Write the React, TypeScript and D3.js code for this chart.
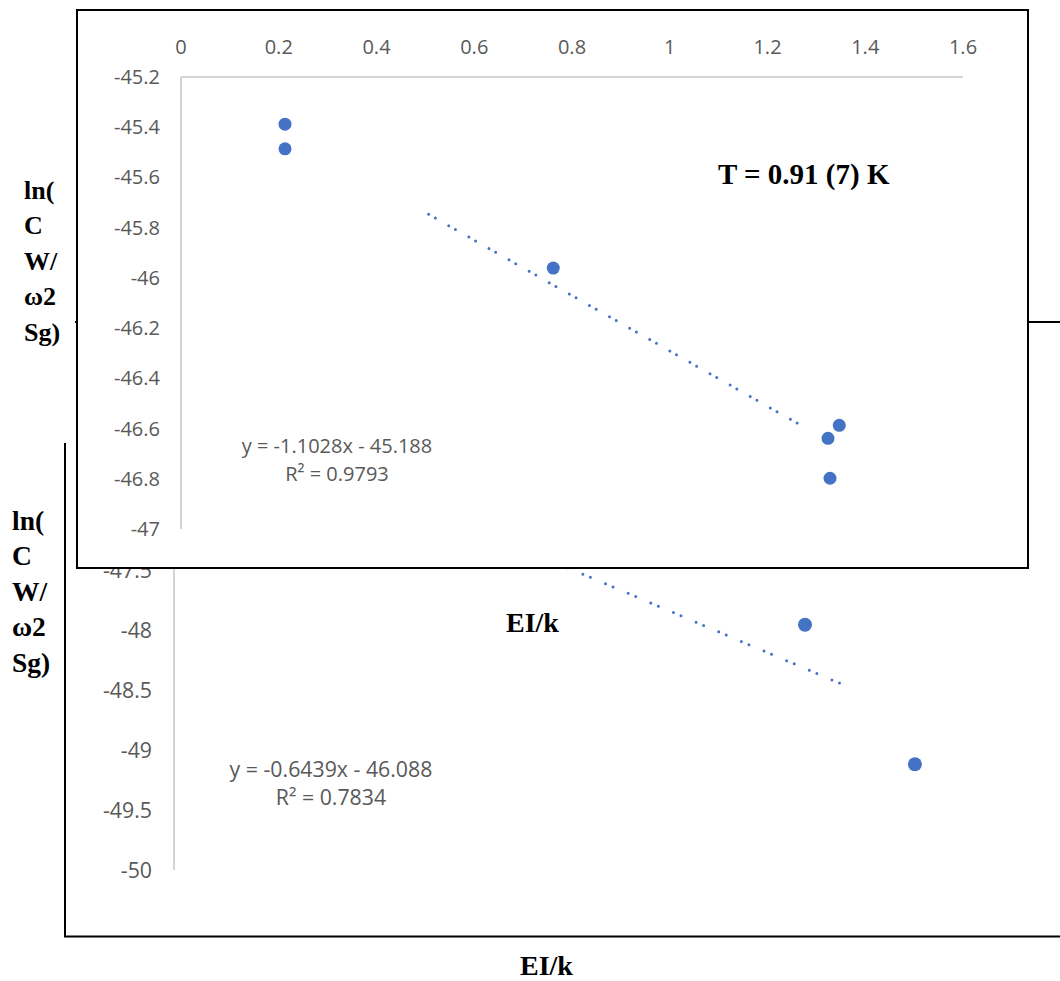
import React from "react";
import * as d3 from "d3";

// ---------- data ----------
// front (inset) chart
const frontX = [0.2128, 0.2128, 0.7617, 1.3469, 1.3238, 1.3279];
const frontY = [-45.388, -45.486, -45.961, -46.587, -46.639, -46.798];
const frontXTicks = [0, 0.2, 0.4, 0.6, 0.8, 1, 1.2, 1.4, 1.6];
const frontXTickLabels = ["0", "0.2", "0.4", "0.6", "0.8", "1", "1.2", "1.4", "1.6"];
const frontYTicks = [-45.2, -45.4, -45.6, -45.8, -46, -46.2, -46.4, -46.6, -46.8, -47];
const frontYTickLabels = ["-45.2", "-45.4", "-45.6", "-45.8", "-46", "-46.2", "-46.4", "-46.6", "-46.8", "-47"];
const frontSlope = -1.1028;
const frontIntercept = -45.188;
const frontTrendRange = [0.5067, 1.275];
const frontEquation = "y = -1.1028x - 45.188";
const frontR2 = "R² = 0.9793";
const frontNote = "T = 0.91 (7) K";

// back chart (only the part not covered by the inset)
const backX = [3.467, 4.071];
const backY = [-47.956, -49.119];
const backYTicks = [-47.5, -48, -48.5, -49, -49.5, -50];
const backYTickLabels = ["-47.5", "-48", "-48.5", "-49", "-49.5", "-50"];
const backSlope = -0.6439;
const backIntercept = -46.088;
const backTrendRange = [1.5, 3.729];
const backEquation = "y = -0.6439x - 46.088";
const backR2 = "R² = 0.7834";

const yTitleLines = ["ln(", "C", "W/", "ω2", "Sg)"];
const xTitle = "EI/k";

const BLUE = "#4472C4";
const GRAY_TEXT = "#595959";
const AXIS = "#c6c6c6";
const SANS = "'Open Sans', 'Noto Sans', sans-serif";
const SERIF = "'Liberation Serif', 'DejaVu Serif', serif";

export default function App() {
  // front scales
  const fx = d3.scaleLinear().domain([0, 1.6]).range([181, 963]);
  const fy = d3.scaleLinear().domain([-47, -45.2]).range([529, 77]);
  // back scales
  const bx = d3.scaleLinear().domain([0, 5]).range([174, 1084]);
  const by = d3.scaleLinear().domain([-50, -45.5]).range([870, 330]);

  const frontLine = d3
    .line<number>()
    .x((d) => fx(d))
    .y((d) => fy(frontSlope * d + frontIntercept));
  const backLine = d3
    .line<number>()
    .x((d) => bx(d))
    .y((d) => by(backSlope * d + backIntercept));

  return (
    <svg
      width={1060}
      height={981}
      style={{ position: "absolute", left: 0, top: 0, background: "#fff" }}
    >
      <rect x={0} y={0} width={1060} height={981} fill="#fff" />

      {/* ---------------- back chart ---------------- */}
      <g>
        <line x1={75} x2={1060} y1={322} y2={322} stroke="#000" strokeWidth={2} />
        <line x1={65} x2={65} y1={443} y2={937} stroke="#000" strokeWidth={2} />
        <line x1={64} x2={1060} y1={936.5} y2={936.5} stroke="#000" strokeWidth={2} />

        <line x1={bx(0)} x2={bx(0)} y1={by(-45.5)} y2={by(-50)} stroke={AXIS} strokeWidth={1.5} />
        {backYTicks.map((t, i) => (
          <text
            key={i}
            x={152}
            y={by(t) + 7.5}
            textAnchor="end"
            fontFamily={SANS}
            fontSize={21.3}
            fill={GRAY_TEXT}
          >
            {backYTickLabels[i]}
          </text>
        ))}

        <path
          d={backLine(backTrendRange) || ""}
          fill="none"
          stroke={BLUE}
          strokeWidth={3}
          strokeLinecap="round"
          strokeDasharray="0 8.2 0 16.4"
        />
        {backX.map((x, i) => (
          <circle key={i} cx={bx(x)} cy={by(backY[i])} r={7} fill={BLUE} />
        ))}

        <text x={331} y={777} textAnchor="middle" fontFamily={SANS} fontSize={21.3} fill={GRAY_TEXT}>
          {backEquation}
        </text>
        <text x={331} y={805} textAnchor="middle" fontFamily={SANS} fontSize={21.3} fill={GRAY_TEXT}>
          {backR2}
        </text>

        {yTitleLines.map((s, i) => (
          <text
            key={i}
            x={12}
            y={529.5 + i * 35.5}
            fontFamily={SERIF}
            fontWeight="bold"
            fontSize={27.5}
            fill="#000"
          >
            {s}
          </text>
        ))}
        <text x={520} y={975} fontFamily={SERIF} fontWeight="bold" fontSize={28} fill="#000">
          {xTitle}
        </text>
      </g>

      {/* ---------------- front chart ---------------- */}
      <g>
        <rect x={77} y={10} width={951} height={558} fill="#fff" stroke="#000" strokeWidth={2} />

        <line x1={fx(0)} x2={fx(1.6)} y1={fy(-45.2)} y2={fy(-45.2)} stroke={AXIS} strokeWidth={1.5} />
        <line x1={fx(0)} x2={fx(0)} y1={fy(-45.2)} y2={fy(-47)} stroke={AXIS} strokeWidth={1.5} />

        {frontXTicks.map((t, i) => (
          <text
            key={i}
            x={fx(t)}
            y={54}
            textAnchor="middle"
            fontFamily={SANS}
            fontSize={20}
            fill={GRAY_TEXT}
          >
            {frontXTickLabels[i]}
          </text>
        ))}
        {frontYTicks.map((t, i) => (
          <text
            key={i}
            x={160}
            y={fy(t) + 7}
            textAnchor="end"
            fontFamily={SANS}
            fontSize={20}
            fill={GRAY_TEXT}
          >
            {frontYTickLabels[i]}
          </text>
        ))}

        <path
          d={frontLine(frontTrendRange) || ""}
          fill="none"
          stroke={BLUE}
          strokeWidth={3}
          strokeLinecap="round"
          strokeDasharray="0 7.7 0 15.4"
        />
        {frontX.map((x, i) => (
          <circle key={i} cx={fx(x)} cy={fy(frontY[i])} r={6.5} fill={BLUE} />
        ))}

        <text x={337} y={453} textAnchor="middle" fontFamily={SANS} fontSize={20} fill={GRAY_TEXT}>
          {frontEquation}
        </text>
        <text x={337} y={480.5} textAnchor="middle" fontFamily={SANS} fontSize={20} fill={GRAY_TEXT}>
          {frontR2}
        </text>

        <text x={718} y={184} fontFamily={SERIF} fontWeight="bold" fontSize={29} fill="#000">
          {frontNote}
        </text>
        <text x={506} y={632} fontFamily={SERIF} fontWeight="bold" fontSize={28} fill="#000">
          {xTitle}
        </text>
      </g>

      {/* front chart's y title (sits left of its frame) */}
      {yTitleLines.map((s, i) => (
        <text
          key={i}
          x={24}
          y={198.5 + i * 35.5}
          fontFamily={SERIF}
          fontWeight="bold"
          fontSize={26}
          fill="#000"
        >
          {s}
        </text>
      ))}
    </svg>
  );
}
